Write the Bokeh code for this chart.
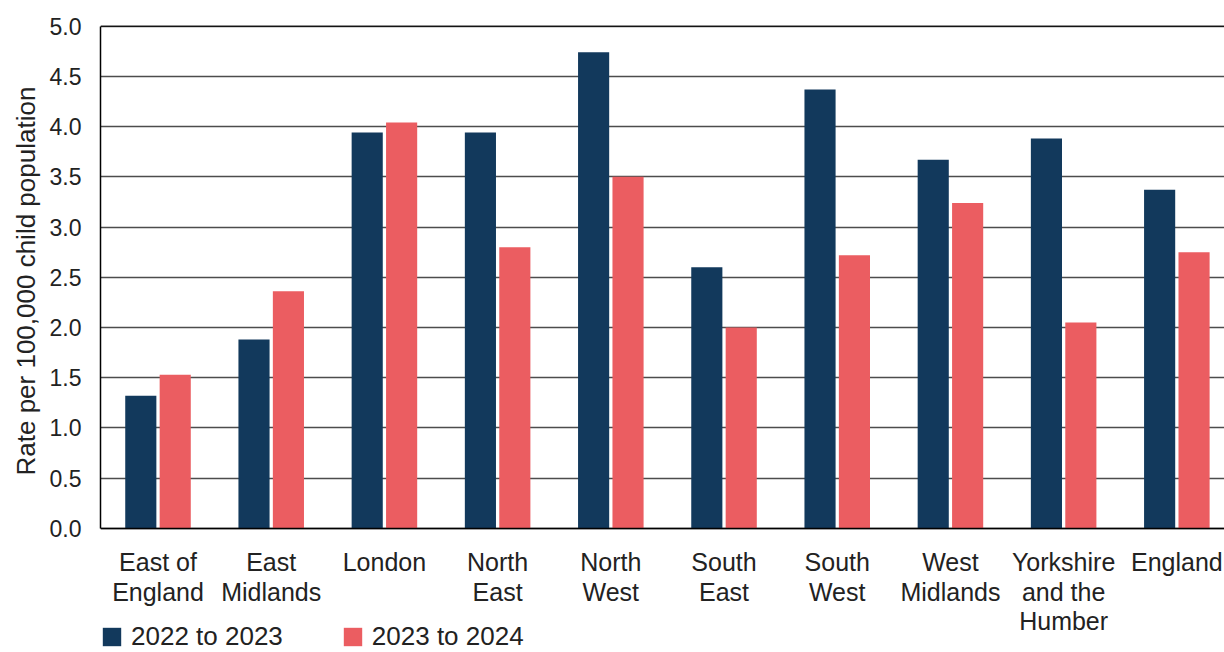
from bokeh.plotting import figure
from bokeh.models import (Range1d, Legend, LegendItem, ColumnDataSource,
                          FixedTicker, NumeralTickFormatter, Span, Title)
from bokeh.core.properties import value
from bokeh.transform import dodge
from bokeh.embed import file_html
from bokeh.resources import INLINE

regions = ["East of England", "East Midlands", "London", "North East", "North West",
           "South East", "South West", "West Midlands", "Yorkshire and the Humber", "England"]
# tick labels as shown, wrapped over up to three lines
region_labels = ["East of\nEngland", "East\nMidlands", "London", "North\nEast", "North\nWest",
                 "South\nEast", "South\nWest", "West\nMidlands", "Yorkshire\nand the\nHumber", "England"]
rate_2022_23 = [1.32, 1.88, 3.94, 3.94, 4.74, 2.60, 4.37, 3.67, 3.88, 3.37]
rate_2023_24 = [1.53, 2.36, 4.04, 2.80, 3.50, 2.00, 2.72, 3.24, 2.05, 2.75]
series_names = ["2022 to 2023", "2023 to 2024"]
y_ticks = [0.0, 0.5, 1.0, 1.5, 2.0, 2.5, 3.0, 3.5, 4.0, 4.5, 5.0]
y_title = "Rate per 100,000 child population"

NAVY = "#12395c"
CORAL = "#eb5d61"
FONT = "Liberation Sans"
TXT = "#222222"

pos = list(range(len(regions)))
src = ColumnDataSource(dict(region=regions, label=region_labels, pos=pos,
                            zero=[0.0] * len(regions), a=rate_2022_23, b=rate_2023_24))

y_min = -1.235   # room under the axis for the category labels and the legend
p = figure(x_range=Range1d(-0.508, 9.421), y_range=Range1d(y_min, 5.006),
           width=1224, height=652, output_backend="svg", toolbar_location=None,
           min_border_left=100, min_border_top=25, min_border_right=0, min_border_bottom=0,
           x_axis_type=None)
p.outline_line_color = None
p.background_fill_color = "white"
p.xgrid.grid_line_color = None

r1 = p.vbar(x=dodge("pos", -0.152), top="a", width=0.275, source=src,
            fill_color=NAVY, line_color=None)
r2 = p.vbar(x=dodge("pos", 0.152), top="b", width=0.275, source=src,
            fill_color=CORAL, line_color=None)

p.ygrid.grid_line_color = "#4d4d4d"
p.ygrid.grid_line_width = 1.4
p.ygrid.ticker = FixedTicker(ticks=y_ticks)

p.add_layout(Span(location=5.0, dimension="width", line_color="black", line_width=1.5))
p.add_layout(Span(location=0.0, dimension="width", line_color="black", line_width=1.5))

ya = p.yaxis[0]
ya.bounds = (0, 5.0)
ya.ticker = FixedTicker(ticks=y_ticks)
ya.formatter = NumeralTickFormatter(format="0.0")
ya.axis_line_color = "black"
ya.axis_line_width = 1.5
ya.major_tick_line_color = None
ya.minor_tick_line_color = None
ya.major_tick_out = 0
ya.major_tick_in = 0
ya.major_label_text_font = FONT
ya.major_label_text_font_size = "23px"
ya.major_label_text_color = TXT
ya.major_label_standoff = 19

# y-axis title, placed along the 0-5 part of the axis
p.add_layout(Title(text=y_title, align="left", offset=177, standoff=11,
                   text_font=FONT, text_font_size="26px", text_font_style="normal",
                   text_color=TXT), "left")

# category labels under the axis
p.text(x="pos", y="zero", text="label", source=src, text_align="center", text_baseline="top",
       y_offset=20, text_font=value(FONT), text_font_size="25px", text_color=TXT,
       text_line_height=1.05)

legend = Legend(items=[LegendItem(label=series_names[0], renderers=[r1]),
                       LegendItem(label=series_names[1], renderers=[r2])],
                orientation="horizontal", location=(0, 0),
                border_line_color=None, background_fill_alpha=0,
                padding=0, margin=0, spacing=58, glyph_width=23, glyph_height=23,
                label_standoff=8, label_text_font=FONT, label_text_font_size="26px",
                label_text_color=TXT)
p.add_layout(legend, "center")

open("out.html", "w").write(file_html(p, INLINE))
